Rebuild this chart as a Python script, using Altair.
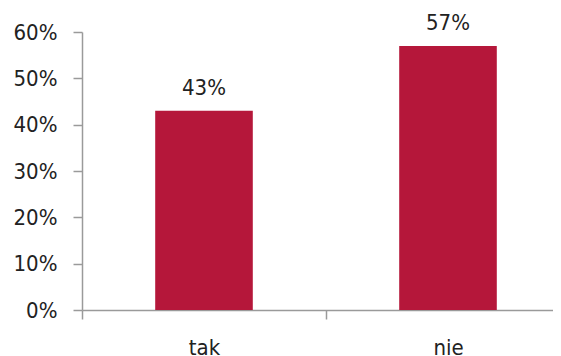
import altair as alt
import pandas as pd

categories = ["tak", "nie"]
values = [0.43, 0.57]
labels = ["43%", "57%"]

df = pd.DataFrame({"cat": categories, "val": values, "lab": labels})

FONT = "DejaVu Sans Condensed, Roboto, sans-serif"
BAR = "#B5173A"
AX = "#9A9A9A"
TXT = "#222222"

xscale = alt.Scale(domain=categories, paddingInner=0.6, paddingOuter=0.3)
x = alt.X("cat:N", sort=categories, title=None, scale=xscale,
          axis=alt.Axis(labelAngle=0, tickOffset=-122, labelOffset=122,
                        domainColor=AX, tickColor=AX,
                        tickSize=9, domainWidth=1.5, tickWidth=1.5,
                        labelFont=FONT, labelFontSize=22, labelColor=TXT,
                        labelPadding=18))
y = alt.Y("val:Q", title=None,
          scale=alt.Scale(domain=[0, 0.6], nice=False),
          axis=alt.Axis(format=".0%", values=[0, 0.1, 0.2, 0.3, 0.4, 0.5, 0.6], grid=False,
                        domainColor=AX, tickColor=AX, tickSize=9, domainWidth=1.5, tickWidth=1.5,
                        labelFont=FONT, labelFontSize=22, labelColor=TXT,
                        labelPadding=16))

bars = alt.Chart(df).mark_bar(color=BAR).encode(x=x, y=y)
text = alt.Chart(df).mark_text(font=FONT, fontSize=22, color=TXT, baseline="alphabetic", dy=-16).encode(
    x=x, y=y, text="lab:N")

chart = (bars + text).properties(
    width=488, height=278,
    autosize=alt.AutoSizeParams(type="none"),
    padding={"left": 74, "top": 24, "right": -17, "bottom": 46},
).configure_view(stroke=None)

chart.save("out.html", embed_options={"renderer": "svg", "actions": False})
